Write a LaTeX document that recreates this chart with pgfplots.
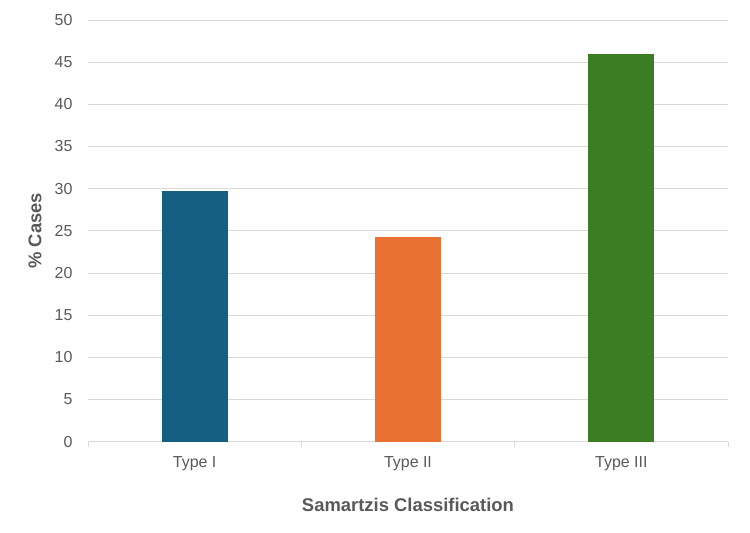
\documentclass[border=0pt]{standalone}
\usepackage{pgfplots}
\pgfplotsset{compat=1.18}
\usepackage{fontspec}
\setmainfont{Liberation Sans}
\definecolor{c1}{HTML}{156082}
\definecolor{c2}{HTML}{E97132}
\definecolor{c3}{HTML}{3A7D22}
\definecolor{txt}{HTML}{595959}
\definecolor{gridc}{HTML}{D9D9D9}
\begin{document}
\begin{tikzpicture}
\useasboundingbox (0,0) rectangle (750bp,533bp);
\begin{axis}[
  at={(88bp,91.3bp)}, anchor=south west,
  scale only axis, width=640bp, height=421.7bp,
  xmin=-0.5, xmax=2.5, ymin=0, ymax=50,
  ytick={0,5,...,50},
  ymajorgrids,
  grid style={color=gridc, line width=0.75bp},
  axis lines*=left,
  y axis line style={draw=none},
  x axis line style={color=gridc, line width=0.75bp},
  ytick style={draw=none},
  xtick style={color=gridc, line width=0.75bp},
  major tick length=0pt,
  tick align=outside,
  xtick={0,1,2},
  xticklabels={Type I, Type II, Type III},
  extra x ticks={-0.5,0.5,1.5,2.5},
  extra x tick labels={},
  extra x tick style={major tick length=5bp, tick align=outside, grid=none},
  tick label style={font=\fontsize{16}{19}\selectfont, color=txt},
  /pgf/number format/assume math mode=true,
  xticklabel style={yshift=-11bp},
  yticklabel style={xshift=-12bp},
  every axis y label/.style={at={(axis description cs:0,0.5)}, rotate=90, anchor=center, yshift=53bp},
  every axis x label/.style={at={(axis description cs:0.5,0)}, anchor=center, yshift=-63bp},
  ylabel={\% Cases},
  xlabel={Samartzis Classification},
  label style={font=\fontsize{18.5}{22}\selectfont\bfseries, color=txt},
]
\addplot[ybar, bar width=0.31, fill=c1, draw=none] coordinates {(0,29.73)};
\addplot[ybar, bar width=0.31, fill=c2, draw=none] coordinates {(1,24.32)};
\addplot[ybar, bar width=0.31, fill=c3, draw=none] coordinates {(2,45.95)};
\end{axis}
\end{tikzpicture}
\end{document}
